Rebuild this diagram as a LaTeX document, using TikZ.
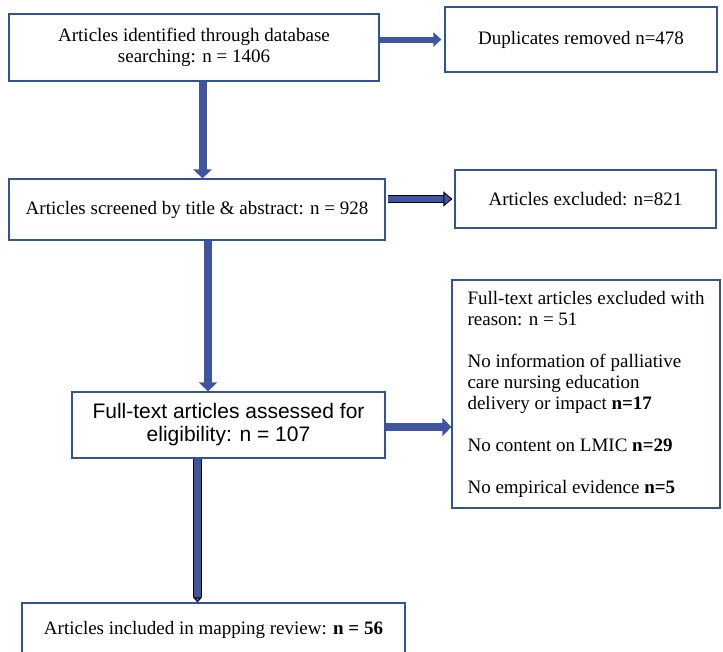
\documentclass[tikz,border=0pt]{standalone}
\usepackage{fontspec}
\setmainfont{Liberation Serif}
\setsansfont{Liberation Sans}
\usetikzlibrary{arrows.meta}
\definecolor{boxblue}{RGB}{47,85,151}
\definecolor{arrowblue}{RGB}{64,84,160}

\begin{document}
\begin{tikzpicture}[x=1pt,y=-1pt,
  main/.style = {draw=boxblue,line width=1.2pt,fill=white,inner sep=0pt,align=center,font=\fontsize{19}{21}\selectfont},
  flow/.style = {arrowblue,line width=#1},
  flow/.default = 6pt,
  rim/.style = {preaction={draw=black,line width=#1,-,shorten >=5pt}}]
\useasboundingbox (0,0) rectangle (723,651);
\node[main,minimum width=370,minimum height=67] (1) at (194,47.5) {Articles identified through database\\searching: n = 1406};
\node[main,minimum width=272,minimum height=65] (2) at (581,39.5) {Duplicates removed n=478};
\node[main,minimum width=376,minimum height=61] (3) at (197,209.5) {Articles screened by title \& abstract: n = 928};
\node[main,minimum width=261,minimum height=58] (4) at (585.5,199) {Articles excluded: n=821};
\node[main,minimum width=313,minimum height=66,font=\sffamily\fontsize{21}{23}\selectfont] (5) at (228.5,425) {Full-text articles assessed for\\eligibility: n = 107};
\node[main,minimum width=268,minimum height=228,align=left] (6) at (586,394) {Full-text articles excluded with\\reason: n = 51\\[21pt]No information of palliative\\care nursing education\\delivery or impact \textbf{n=17}\\[21pt]No content on LMIC \textbf{n=29}\\[21pt]No empirical evidence \textbf{n=5}};
\node[main,minimum width=383,minimum height=54] (7) at (213.5,630) {Articles included in mapping review: \textbf{n = 56}};
\draw[flow,-{Triangle[length=8pt,width=14pt]}] (1.east |- 2.west) -- ([xshift=-3pt]2.west);
\draw[flow=8pt,-{Triangle[length=9pt,width=18pt]}] ([xshift=8.5pt]1.south) -- ([xshift=8.5pt]1.south |- 3.north);
\draw[flow=5.5pt,rim=7.5pt,-{Triangle[length=9pt,width=15pt,color=black,fill=arrowblue,line width=0.9pt]}] ([xshift=2pt]3.east |- 4.west) -- ([xshift=-2pt]4.west);
\draw[flow=8pt,-{Triangle[length=9pt,width=18pt]}] ([xshift=11pt]3.south) -- ([xshift=11pt]3.south |- 5.north);
\draw[flow=8pt,-{Triangle[length=9pt,width=18pt]}] ([yshift=-2pt]5.east) -- ([yshift=-2pt]5.east -| 6.west);
\draw[flow=7pt,rim=9pt,-{Triangle[length=5pt,width=9pt,color=black,fill=arrowblue,line width=0.9pt]}] ([xshift=-16pt]7.north |- 5.south) -- ([xshift=-16pt]7.north);
\end{tikzpicture}
\end{document}
